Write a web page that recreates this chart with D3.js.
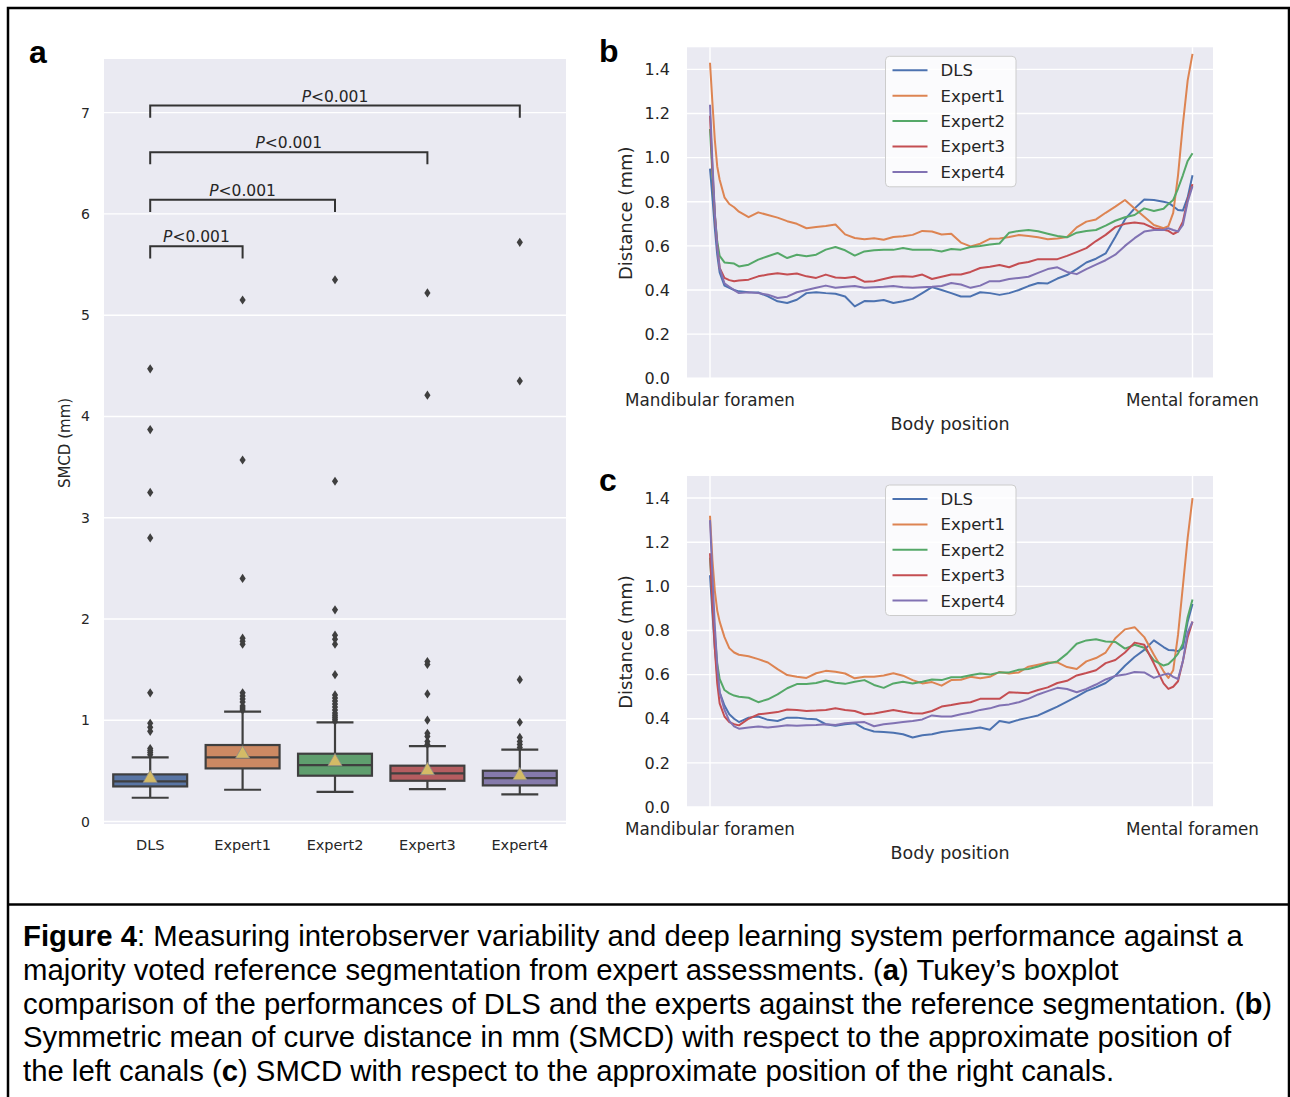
<!DOCTYPE html>
<html>
<head>
<meta charset="utf-8">
<script src="https://cdn.jsdelivr.net/npm/d3@7"></script>
<style>
body { margin: 0; background: #fff; }
svg text { font-family: "DejaVu Sans", sans-serif; fill: #262626; }
svg text.cap { font-family: "Liberation Sans", Arial, sans-serif; fill: #000; }
</style>
</head>
<body>
<svg id="fig" width="1290" height="1097"></svg>
<script>
/**
 * Panel a: Tukey boxplot of SMCD per rater.
 */
var categories = ["DLS", "Expert1", "Expert2", "Expert3", "Expert4"];
var boxColors  = ["#5975a4", "#cc8963", "#5f9e6e", "#b55d60", "#857aab"];
var whiskerLow  = [0.234, 0.313, 0.293, 0.320, 0.267];
var q1          = [0.346, 0.524, 0.452, 0.402, 0.356];
var medians     = [0.395, 0.633, 0.557, 0.475, 0.428];
var q3          = [0.465, 0.755, 0.669, 0.551, 0.501];
var whiskerHigh = [0.633, 1.085, 0.979, 0.745, 0.709];
var means       = [0.445, 0.685, 0.610, 0.521, 0.471];
var outliers = [
    [0.66, 0.68, 0.70, 0.72, 0.89, 0.93, 0.97, 1.27, 2.80, 3.25, 3.87, 4.47],
    [1.10, 1.12, 1.14, 1.18, 1.21, 1.24, 1.27, 1.75, 1.78, 1.81, 2.40, 3.57, 5.15],
    [0.99, 1.01, 1.03, 1.05, 1.07, 1.10, 1.13, 1.16, 1.19, 1.22, 1.25, 1.45, 1.75, 1.80, 1.84, 2.09, 3.36, 5.35],
    [0.76, 0.79, 0.84, 0.87, 1.00, 1.26, 1.55, 1.58, 4.21, 5.22],
    [0.73, 0.76, 0.79, 0.83, 0.98, 1.40, 4.35, 5.72]
];
var boxTicks = [0, 1, 2, 3, 4, 5, 6, 7];

// significance brackets (DLS vs each expert)
var bracketPairs  = [[0, 1], [0, 2], [0, 3], [0, 4]];
var bracketLevels = [5.68, 6.14, 6.61, 7.07];
var bracketText   = ["<0.001", "<0.001", "<0.001", "<0.001"];

/**
 * Panels b and c: SMCD along the canal body.
 */
var seriesNames  = ["DLS", "Expert1", "Expert2", "Expert3", "Expert4"];
var seriesColors = ["#4c72b0", "#dd8452", "#55a868", "#c44e52", "#8172b3"];
var positions = [0, 0.005, 0.01, 0.015, 0.02, 0.03, 0.04, 0.05,
    0.06, 0.08, 0.10, 0.12, 0.14, 0.16, 0.18, 0.20, 0.22, 0.24, 0.26, 0.28,
    0.30, 0.32, 0.34, 0.36, 0.38, 0.40, 0.42, 0.44, 0.46, 0.48, 0.50, 0.52,
    0.54, 0.56, 0.58, 0.60, 0.62, 0.64, 0.66, 0.68, 0.70, 0.72, 0.74, 0.76,
    0.78, 0.80, 0.82, 0.84, 0.86, 0.88, 0.90, 0.92, 0.94,
    0.95, 0.96, 0.97, 0.98, 0.99, 1.0];
var distTicks = [0, 0.2, 0.4, 0.6, 0.8, 1.0, 1.2, 1.4];
var posTickLabels = ["Mandibular foramen", "Mental foramen"];

// left canals (b)
var leftDLS = [0.95, 0.82, 0.68, 0.56, 0.48, 0.42, 0.41, 0.40,
    0.394, 0.39, 0.389, 0.371, 0.349, 0.341, 0.356, 0.386, 0.39, 0.386, 0.383, 0.371,
    0.326, 0.35, 0.349, 0.355, 0.341, 0.349, 0.36, 0.386, 0.413, 0.40, 0.386, 0.371,
    0.371, 0.39, 0.386, 0.378, 0.386, 0.40, 0.418, 0.432, 0.43, 0.452, 0.468, 0.495,
    0.525, 0.542, 0.566, 0.64, 0.72, 0.77, 0.81, 0.808, 0.80,
    0.795, 0.78, 0.763, 0.76, 0.82, 0.92];
var leftExpert1 = [1.43, 1.25, 1.08, 0.96, 0.90, 0.82, 0.79, 0.775,
    0.755, 0.73, 0.752, 0.74, 0.728, 0.712, 0.70, 0.68, 0.686, 0.69, 0.697, 0.652,
    0.636, 0.63, 0.635, 0.628, 0.64, 0.644, 0.65, 0.668, 0.665, 0.652, 0.655, 0.615,
    0.598, 0.61, 0.632, 0.634, 0.64, 0.649, 0.645, 0.639, 0.63, 0.634, 0.64, 0.684,
    0.71, 0.72, 0.75, 0.778, 0.808, 0.77, 0.732, 0.695, 0.68,
    0.69, 0.75, 0.92, 1.15, 1.35, 1.47];
var leftExpert2 = [1.13, 0.92, 0.74, 0.62, 0.555, 0.525, 0.523, 0.52,
    0.507, 0.515, 0.538, 0.553, 0.568, 0.545, 0.56, 0.553, 0.56, 0.583, 0.595, 0.58,
    0.556, 0.575, 0.58, 0.583, 0.582, 0.59, 0.583, 0.583, 0.582, 0.575, 0.586, 0.583,
    0.595, 0.60, 0.606, 0.611, 0.66, 0.668, 0.672, 0.666, 0.655, 0.645, 0.639, 0.66,
    0.668, 0.672, 0.692, 0.714, 0.73, 0.74, 0.77, 0.758, 0.768,
    0.79, 0.808, 0.86, 0.92, 0.985, 1.02];
var leftExpert3 = [1.19, 0.95, 0.74, 0.60, 0.50, 0.455, 0.445, 0.44,
    0.443, 0.447, 0.462, 0.47, 0.476, 0.47, 0.475, 0.462, 0.455, 0.47, 0.457, 0.455,
    0.46, 0.438, 0.44, 0.45, 0.46, 0.462, 0.46, 0.47, 0.45, 0.46, 0.47, 0.47,
    0.482, 0.50, 0.506, 0.513, 0.503, 0.52, 0.527, 0.54, 0.54, 0.54, 0.555, 0.572,
    0.59, 0.622, 0.65, 0.685, 0.70, 0.706, 0.70, 0.68, 0.673,
    0.668, 0.654, 0.665, 0.71, 0.81, 0.88];
var leftExpert4 = [1.24, 0.98, 0.75, 0.60, 0.50, 0.43, 0.415, 0.40,
    0.386, 0.39, 0.386, 0.379, 0.364, 0.37, 0.39, 0.40, 0.41, 0.42, 0.41, 0.415,
    0.418, 0.41, 0.413, 0.415, 0.418, 0.413, 0.41, 0.413, 0.415, 0.418, 0.432, 0.425,
    0.41, 0.42, 0.44, 0.44, 0.45, 0.455, 0.46, 0.478, 0.495, 0.503, 0.482, 0.472,
    0.495, 0.515, 0.535, 0.56, 0.60, 0.635, 0.665, 0.672, 0.672,
    0.68, 0.672, 0.665, 0.695, 0.80, 0.87];

// right canals (c)
var rightDLS = [1.05, 0.88, 0.72, 0.60, 0.52, 0.46, 0.42, 0.40,
    0.385, 0.405, 0.41, 0.395, 0.39, 0.405, 0.405, 0.40, 0.398, 0.375, 0.368, 0.375,
    0.38, 0.355, 0.342, 0.34, 0.336, 0.33, 0.315, 0.325, 0.33, 0.34, 0.345, 0.35,
    0.355, 0.36, 0.35, 0.39, 0.382, 0.395, 0.405, 0.415, 0.435, 0.455, 0.478, 0.50,
    0.525, 0.542, 0.562, 0.595, 0.64, 0.68, 0.712, 0.755, 0.725,
    0.712, 0.71, 0.706, 0.72, 0.84, 0.92];
var rightExpert1 = [1.32, 1.12, 0.98, 0.89, 0.84, 0.77, 0.72, 0.70,
    0.69, 0.683, 0.67, 0.655, 0.625, 0.598, 0.59, 0.585, 0.606, 0.617, 0.613, 0.605,
    0.583, 0.59, 0.59, 0.596, 0.606, 0.595, 0.575, 0.56, 0.566, 0.55, 0.575, 0.577,
    0.59, 0.583, 0.59, 0.612, 0.605, 0.61, 0.636, 0.645, 0.655, 0.655, 0.634, 0.625,
    0.66, 0.675, 0.70, 0.765, 0.805, 0.815, 0.77, 0.69, 0.615,
    0.585, 0.62, 0.78, 1.0, 1.22, 1.40];
var rightExpert2 = [1.13, 0.95, 0.78, 0.65, 0.58, 0.53, 0.515, 0.505,
    0.50, 0.495, 0.475, 0.488, 0.51, 0.538, 0.557, 0.557, 0.562, 0.573, 0.563, 0.558,
    0.568, 0.575, 0.553, 0.54, 0.56, 0.568, 0.56, 0.568, 0.578, 0.575, 0.588, 0.588,
    0.597, 0.605, 0.60, 0.61, 0.61, 0.622, 0.625, 0.637, 0.65, 0.66, 0.695, 0.74,
    0.755, 0.76, 0.75, 0.748, 0.718, 0.735, 0.722, 0.665, 0.641,
    0.648, 0.668, 0.695, 0.74, 0.86, 0.94];
var rightExpert3 = [1.15, 0.92, 0.72, 0.56, 0.47, 0.41, 0.385, 0.375,
    0.37, 0.40, 0.42, 0.425, 0.43, 0.442, 0.44, 0.435, 0.437, 0.44, 0.447, 0.44,
    0.435, 0.42, 0.424, 0.432, 0.44, 0.432, 0.425, 0.424, 0.435, 0.455, 0.462, 0.47,
    0.475, 0.49, 0.49, 0.49, 0.52, 0.518, 0.516, 0.53, 0.542, 0.562, 0.572, 0.596,
    0.607, 0.62, 0.652, 0.666, 0.70, 0.745, 0.735, 0.65, 0.56,
    0.535, 0.545, 0.57, 0.66, 0.77, 0.84];
var rightExpert4 = [1.30, 1.05, 0.82, 0.64, 0.52, 0.44, 0.39, 0.365,
    0.355, 0.36, 0.365, 0.36, 0.365, 0.37, 0.368, 0.37, 0.372, 0.375, 0.372, 0.38,
    0.383, 0.385, 0.366, 0.375, 0.38, 0.385, 0.39, 0.397, 0.415, 0.41, 0.41, 0.42,
    0.428, 0.44, 0.447, 0.46, 0.465, 0.475, 0.49, 0.51, 0.525, 0.54, 0.535, 0.52,
    0.535, 0.555, 0.578, 0.594, 0.60, 0.612, 0.61, 0.585, 0.60,
    0.605, 0.59, 0.58, 0.66, 0.79, 0.84];

var leftSeries  = [leftDLS, leftExpert1, leftExpert2, leftExpert3, leftExpert4];
var rightSeries = [rightDLS, rightExpert1, rightExpert2, rightExpert3, rightExpert4];

// caption, one entry per line; [text, bold] runs
var captionLines = [
    [["Figure 4", true], [": Measuring interobserver variability and deep learning system performance against a", false]],
    [["majority voted reference segmentation from expert assessments. (", false], ["a", true], [") Tukey\u2019s boxplot", false]],
    [["comparison of the performances of DLS and the experts against the reference segmentation. (", false], ["b", true], [")", false]],
    [["Symmetric mean of curve distance in mm (SMCD) with respect to the approximate position of", false]],
    [["the left canals (", false], ["c", true], [") SMCD with respect to the approximate position of the right canals.", false]]
];


var svg = d3.select("#fig");
var BG = "#eaeaf2", EDGE = "#3f3f3f";

// frame round figure and caption
svg.append("rect")
    .attr("x", 8).attr("y", 8)
    .attr("width", 1281).attr("height", 1100)
    .attr("fill", "none").attr("stroke", "#000").attr("stroke-width", 2.5);
svg.append("line")
    .attr("x1", 8).attr("x2", 1289).attr("y1", 904.5).attr("y2", 904.5)
    .attr("stroke", "#000").attr("stroke-width", 2.5);


function drawBoxPanel() {
    var g = svg.append("g");
    var x = d3.scaleBand().domain(categories).range([104, 566]);
    var y = d3.scaleLinear().domain([-0.025, 7.53]).range([824, 59]);
    var bw = x.bandwidth() * 0.8;
    function cx(i) { return x(categories[i]) + x.bandwidth() / 2; }

    g.append("rect").attr("x", 104).attr("y", 59)
        .attr("width", 462).attr("height", 765).attr("fill", BG);

    g.selectAll(".grid").data(boxTicks).enter().append("line")
        .attr("x1", 104).attr("x2", 566)
        .attr("y1", function(d) { return y(d); })
        .attr("y2", function(d) { return y(d); })
        .attr("stroke", "#fff").attr("stroke-width", 1.4);

    g.selectAll(".ytl").data(boxTicks).enter().append("text")
        .attr("x", 90).attr("y", function(d) { return y(d); })
        .attr("dy", "0.36em").attr("text-anchor", "end")
        .style("font-size", "14px")
        .text(function(d) { return d; });

    g.selectAll(".xtl").data(categories).enter().append("text")
        .attr("x", function(d, i) { return cx(i); }).attr("y", 850)
        .attr("text-anchor", "middle").style("font-size", "14.5px")
        .text(function(d) { return d; });

    g.append("text")
        .attr("transform", "translate(70,443) rotate(-90)")
        .attr("text-anchor", "middle").style("font-size", "15px")
        .text("SMCD (mm)");

    categories.forEach(function(c, i) {
        var xc = cx(i);
        // whiskers + caps
        [[q3[i], whiskerHigh[i]], [q1[i], whiskerLow[i]]].forEach(function(w) {
            g.append("line").attr("x1", xc).attr("x2", xc)
                .attr("y1", y(w[0])).attr("y2", y(w[1]))
                .attr("stroke", EDGE).attr("stroke-width", 2.2);
            g.append("line").attr("x1", xc - bw / 4).attr("x2", xc + bw / 4)
                .attr("y1", y(w[1])).attr("y2", y(w[1]))
                .attr("stroke", EDGE).attr("stroke-width", 2.2);
        });
        g.append("rect")
            .attr("x", xc - bw / 2).attr("width", bw)
            .attr("y", y(q3[i])).attr("height", y(q1[i]) - y(q3[i]))
            .attr("fill", boxColors[i]).attr("stroke", EDGE).attr("stroke-width", 2.2);
        g.append("line").attr("x1", xc - bw / 2).attr("x2", xc + bw / 2)
            .attr("y1", y(medians[i])).attr("y2", y(medians[i]))
            .attr("stroke", EDGE).attr("stroke-width", 2.2);

        g.selectAll(".fl" + i).data(outliers[i]).enter().append("path")
            .attr("d", "M0,-4.6L3.1,0L0,4.6L-3.1,0Z")
            .attr("transform", function(d) { return "translate(" + xc + "," + y(d) + ")"; })
            .attr("fill", EDGE);

        g.append("path")
            .attr("d", "M0,-6.3L7,6L-7,6Z")
            .attr("transform", "translate(" + xc + "," + y(means[i]) + ")")
            .attr("fill", "#d4bb66").attr("stroke", "#8c8c8c").attr("stroke-width", 0.8);
    });

    // p-value brackets
    bracketPairs.forEach(function(p, k) {
        var x1 = cx(p[0]), x2 = cx(p[1]), yl = y(bracketLevels[k]);
        var drop = y(bracketLevels[k] - 0.12);
        g.append("path")
            .attr("d", "M" + x1 + "," + drop + "V" + yl + "H" + x2 + "V" + drop)
            .attr("fill", "none").attr("stroke", "#333").attr("stroke-width", 2);
        var t = g.append("text")
            .attr("x", (x1 + x2) / 2).attr("y", yl - 4)
            .attr("text-anchor", "middle").style("font-size", "15.5px");
        t.append("tspan").style("font-style", "italic").text("P");
        t.append("tspan").text(bracketText[k]);
    });
}


function drawProfilePanel(series, top) {
    var g = svg.append("g");
    var bottom = top + 331;
    var x = d3.scaleLinear().domain([0, 1]).range([710, 1192.5]);
    var y = d3.scaleLinear().domain([0, 1.5]).range([bottom, top]);

    g.append("rect").attr("x", 687).attr("y", top)
        .attr("width", 526).attr("height", bottom - top).attr("fill", BG);

    g.selectAll(".hg").data(distTicks).enter().append("line")
        .attr("x1", 687).attr("x2", 1213)
        .attr("y1", function(d) { return y(d); })
        .attr("y2", function(d) { return y(d); })
        .attr("stroke", "#fff").attr("stroke-width", 1.4);
    g.selectAll(".vg").data([0, 1]).enter().append("line")
        .attr("x1", function(d) { return x(d); })
        .attr("x2", function(d) { return x(d); })
        .attr("y1", top).attr("y2", bottom)
        .attr("stroke", "#fff").attr("stroke-width", 1.4);

    g.selectAll(".ytl").data(distTicks).enter().append("text")
        .attr("x", 670).attr("y", function(d) { return y(d); })
        .attr("dy", "0.36em").attr("text-anchor", "end")
        .style("font-size", "16px")
        .text(d3.format(".1f"));

    g.selectAll(".xtl").data(posTickLabels).enter().append("text")
        .attr("x", function(d, i) { return x(i); }).attr("y", bottom + 28)
        .attr("text-anchor", "middle").style("font-size", "16.8px")
        .text(function(d) { return d; });

    g.append("text").attr("x", 950).attr("y", bottom + 52)
        .attr("text-anchor", "middle").style("font-size", "17.5px")
        .text("Body position");

    g.append("text")
        .attr("transform", "translate(632," + (top + 166) + ") rotate(-90)")
        .attr("text-anchor", "middle").style("font-size", "18px")
        .text("Distance (mm)");

    var line = d3.line()
        .x(function(d, i) { return x(positions[i]); })
        .y(function(d) { return y(d); });

    series.forEach(function(s, k) {
        g.append("path").datum(s)
            .attr("d", line)
            .attr("fill", "none")
            .attr("stroke", seriesColors[k])
            .attr("stroke-width", 2)
            .attr("stroke-linejoin", "round");
    });

    // legend
    var lg = g.append("g").attr("transform", "translate(885.5," + (top + 9) + ")");
    lg.append("rect").attr("width", 130.5).attr("height", 130.5).attr("rx", 4)
        .attr("fill", "#fff").attr("fill-opacity", 0.8)
        .attr("stroke", "#cccccc").attr("stroke-width", 1);
    seriesNames.forEach(function(n, k) {
        var yy = 14 + k * 25.4;
        lg.append("line").attr("x1", 7).attr("x2", 42)
            .attr("y1", yy).attr("y2", yy)
            .attr("stroke", seriesColors[k]).attr("stroke-width", 2);
        lg.append("text").attr("x", 55).attr("y", yy).attr("dy", "0.36em")
            .style("font-size", "16.5px").text(n);
    });
}


function drawLabels() {
    [["a", 29, 63], ["b", 599, 62], ["c", 599, 491]].forEach(function(l) {
        svg.append("text").attr("class", "cap")
            .attr("x", l[1]).attr("y", l[2])
            .style("font-size", "32px").style("font-weight", "bold")
            .text(l[0]);
    });

    captionLines.forEach(function(runs, i) {
        var t = svg.append("text").attr("class", "cap")
            .attr("x", 23).attr("y", 946 + i * 33.8)
            .style("font-size", "29.3px");
        runs.forEach(function(r) {
            t.append("tspan").style("font-weight", r[1] ? "bold" : "normal").text(r[0]);
        });
    });
}

drawBoxPanel();
drawProfilePanel(leftSeries, 47.3);
drawProfilePanel(rightSeries, 476);
drawLabels();
</script>
</body>
</html>
